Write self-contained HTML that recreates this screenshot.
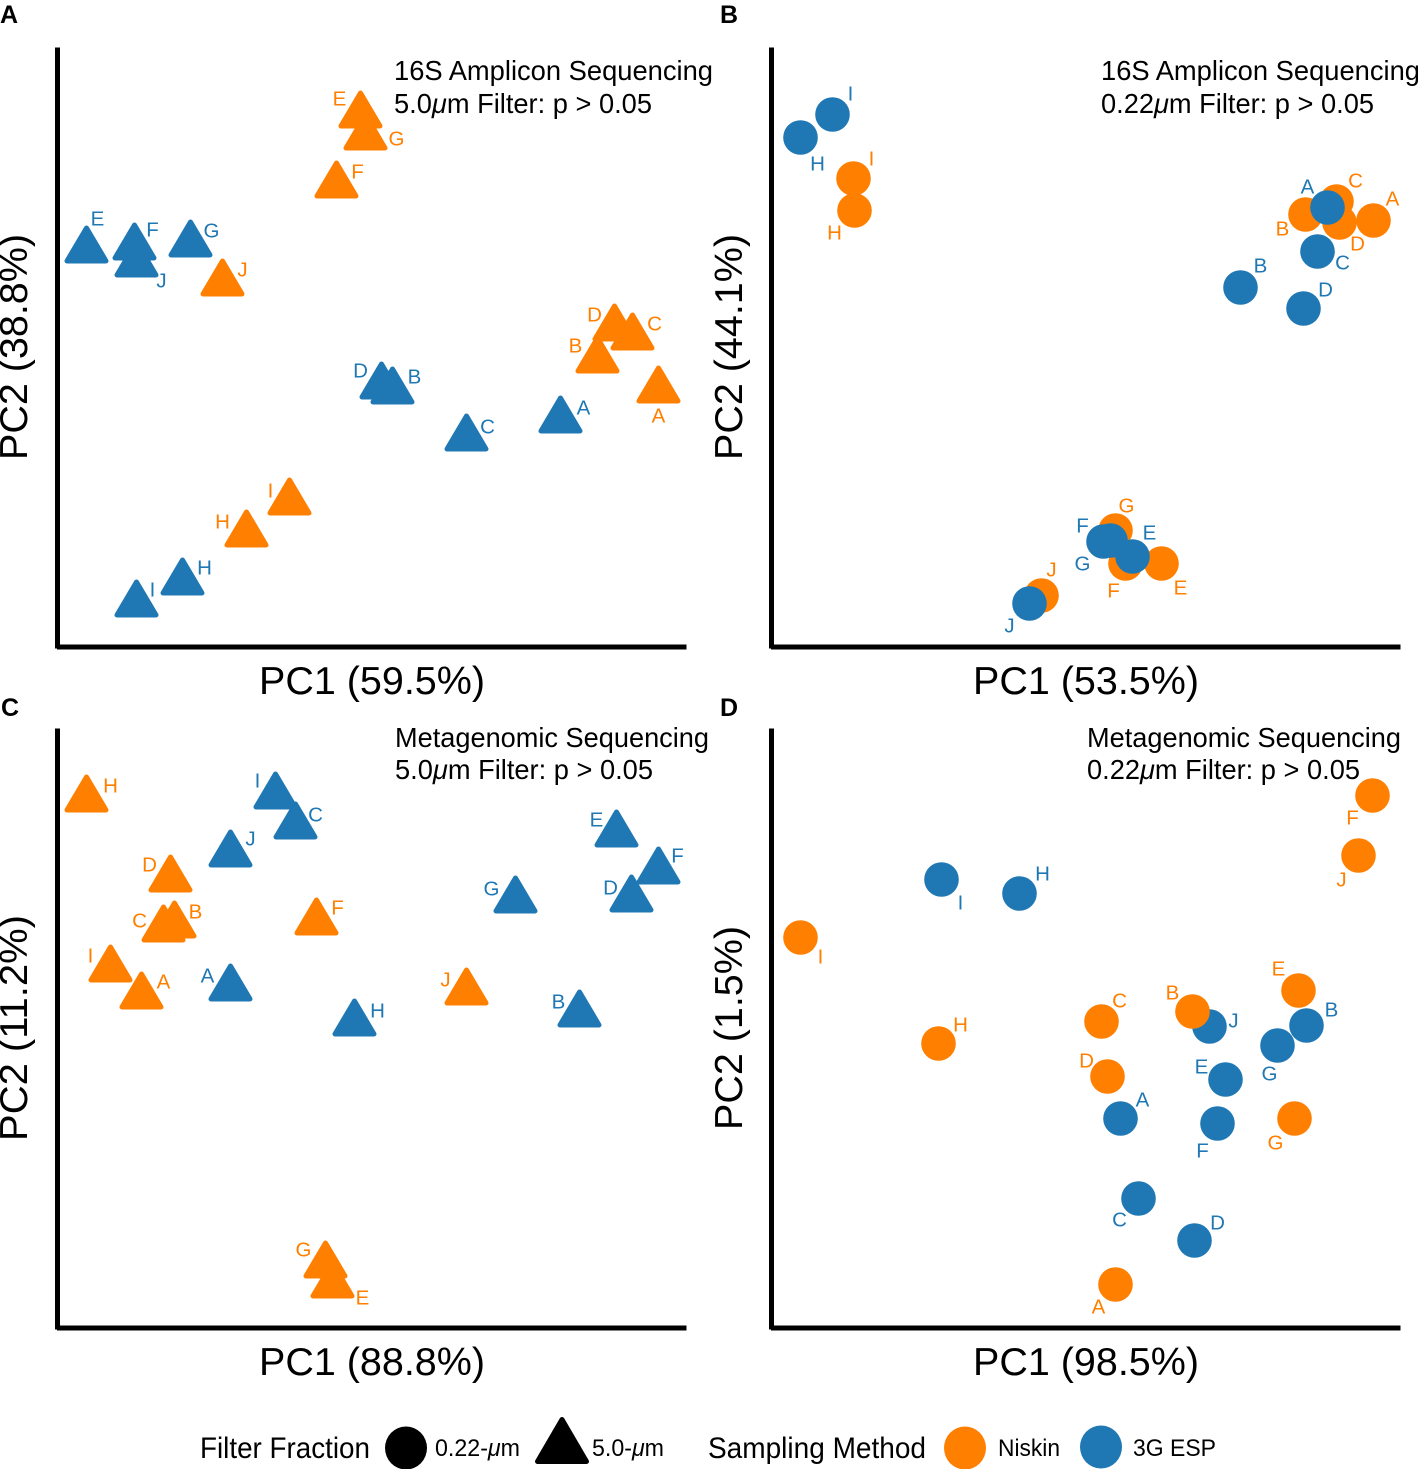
<!DOCTYPE html>
<html>
<head>
<meta charset="utf-8">
<style>
html,body{margin:0;padding:0;background:#fff;width:1418px;height:1469px;overflow:hidden}
svg{display:block}
text{font-family:"Liberation Sans",sans-serif;fill:#000}
.ax{font-size:39px}
.an{font-size:27.5px}
.tag{font-size:25px;font-weight:bold}
.lg{font-size:29.5px}
.li{font-size:24px}
.pl{font-size:20.5px}
</style>
</head>
<body>
<svg id="chart" xmlns="http://www.w3.org/2000/svg" width="1418" height="1469" viewBox="0 0 1418 1469">
  <g>
    <text class="tag" x="0" y="23">A</text>
    <text class="tag" x="720" y="23">B</text>
    <text class="tag" x="1" y="716">C</text>
    <text class="tag" x="720" y="716">D</text>
  </g>
  <g>
    <text class="ax" x="372" y="694" text-anchor="middle" textLength="226" lengthAdjust="spacingAndGlyphs">PC1 (59.5%)</text>
    <text class="ax" x="1086" y="694" text-anchor="middle" textLength="226" lengthAdjust="spacingAndGlyphs">PC1 (53.5%)</text>
    <text class="ax" x="372" y="1375" text-anchor="middle" textLength="226" lengthAdjust="spacingAndGlyphs">PC1 (88.8%)</text>
    <text class="ax" x="1086" y="1375" text-anchor="middle" textLength="226" lengthAdjust="spacingAndGlyphs">PC1 (98.5%)</text>
    <text class="ax" transform="translate(27,347) rotate(-90)" text-anchor="middle" textLength="226" lengthAdjust="spacingAndGlyphs">PC2 (38.8%)</text>
    <text class="ax" transform="translate(742,347) rotate(-90)" text-anchor="middle" textLength="226" lengthAdjust="spacingAndGlyphs">PC2 (44.1%)</text>
    <text class="ax" transform="translate(27,1028) rotate(-90)" text-anchor="middle" textLength="226" lengthAdjust="spacingAndGlyphs">PC2 (11.2%)</text>
    <text class="ax" transform="translate(742,1028) rotate(-90)" text-anchor="middle" textLength="204" lengthAdjust="spacingAndGlyphs">PC2 (1.5%)</text>
  </g>
  <g>
    <text class="an" x="394" y="80" textLength="319" lengthAdjust="spacingAndGlyphs">16S Amplicon Sequencing</text>
    <text class="an" x="394" y="113" textLength="258" lengthAdjust="spacingAndGlyphs">5.0<tspan font-style="italic">μ</tspan>m Filter: p &gt; 0.05</text>
    <text class="an" x="1101" y="80" textLength="319" lengthAdjust="spacingAndGlyphs">16S Amplicon Sequencing</text>
    <text class="an" x="1101" y="113" textLength="273" lengthAdjust="spacingAndGlyphs">0.22<tspan font-style="italic">μ</tspan>m Filter: p &gt; 0.05</text>
    <text class="an" x="395" y="747" textLength="314" lengthAdjust="spacingAndGlyphs">Metagenomic Sequencing</text>
    <text class="an" x="395" y="779" textLength="258" lengthAdjust="spacingAndGlyphs">5.0<tspan font-style="italic">μ</tspan>m Filter: p &gt; 0.05</text>
    <text class="an" x="1087" y="747" textLength="314" lengthAdjust="spacingAndGlyphs">Metagenomic Sequencing</text>
    <text class="an" x="1087" y="779" textLength="273" lengthAdjust="spacingAndGlyphs">0.22<tspan font-style="italic">μ</tspan>m Filter: p &gt; 0.05</text>
  </g>
  <g id="plots"></g>
  <g>
    <text class="lg" x="200" y="1458" textLength="170" lengthAdjust="spacingAndGlyphs">Filter Fraction</text>
    <ellipse cx="406" cy="1448" rx="21" ry="21.5" fill="#000"></ellipse>
    <text class="li" x="435" y="1456" textLength="85" lengthAdjust="spacingAndGlyphs">0.22-<tspan font-style="italic">μ</tspan>m</text>
    <polygon points="562,1419.5 537.5,1461.5 586.5,1461.5" fill="#000" stroke="#000" stroke-width="5" stroke-linejoin="round"></polygon>
    <text class="li" x="592" y="1456" textLength="72" lengthAdjust="spacingAndGlyphs">5.0-<tspan font-style="italic">μ</tspan>m</text>
    <text class="lg" x="708" y="1458" textLength="218" lengthAdjust="spacingAndGlyphs">Sampling Method</text>
    <ellipse cx="965" cy="1448" rx="21" ry="21.5" fill="#FF7F00"></ellipse>
    <text class="li" x="998" y="1456" textLength="62" lengthAdjust="spacingAndGlyphs">Niskin</text>
    <ellipse cx="1101" cy="1447" rx="21" ry="21.5" fill="#1F78B4"></ellipse>
    <text class="li" x="1133" y="1456" textLength="83" lengthAdjust="spacingAndGlyphs">3G ESP</text>
  </g>
</svg>
<script>
// Sample names shared by every panel
const samples = ['A','B','C','D','E','F','G','H','I','J'];

// Panel A — scores on PC1 / PC2
const aNiskinPC1 = [60.0,53.9,57.4,55.6,30.2,27.8,30.7,18.8,23.1,16.4];
const aNiskinPC2 = [25.7,28.7,31.0,31.9,53.2,46.2,51.0,11.3,14.5,36.4];
const aEspPC1 = [50.2,33.4,40.8,32.3,2.8,7.6,13.2,12.4,7.8,7.8];
const aEspPC2 = [22.7,25.6,20.9,26.1,39.7,40.0,40.3,6.5,4.3,38.3];

// Panel B
const bNiskinPC1 = [60.1,53.3,56.4,56.7,38.9,35.3,34.3,8.2,8.1,26.9];
const bNiskinPC2 = [42.7,43.3,44.6,42.5,8.4,8.4,11.7,43.7,46.9,5.2];
const bEspPC1 = [55.5,46.8,54.5,53.1,36.0,33.1,33.8,2.8,6.0,25.7];
const bEspPC2 = [44.0,36.0,39.6,33.9,9.1,10.6,10.7,51.0,53.3,4.4];

// Panel C
const cNiskinPC1 = [8.3,11.6,10.5,11.2,27.4,25.8,26.7,2.8,5.2,40.8];
const cNiskinPC2 = [33.2,40.3,39.9,44.9,4.3,40.6,6.3,52.9,35.9,33.6];
const cEspPC1 = [17.2,52.1,23.7,57.3,55.8,60.0,45.7,29.6,21.7,17.2];
const cEspPC2 = [34.0,31.4,50.2,42.9,49.4,45.7,42.8,30.5,53.2,47.4];

// Panel D
const dNiskinPC1 = [34.3,42.0,32.9,33.5,52.6,60.0,52.2,16.6,2.8,58.6];
const dNiskinPC2 = [4.4,31.7,30.7,25.2,33.8,53.3,21.0,28.5,39.1,47.3];
const dEspPC1 = [34.8,53.4,36.6,42.2,45.3,44.5,50.5,24.7,16.9,43.7];
const dEspPC2 = [21.0,30.3,13.0,8.8,24.9,20.5,28.3,43.5,44.9,30.2];

// Repelled label nudges, expressed in score units relative to each point
const aNiskinNudgeX = [0,-2.2,2.2,-2.0,-2.1,2.1,3.1,-2.4,-1.9,2.0];
const aNiskinNudgeY = [-2.5,1.5,1.4,1.4,1.7,1.4,-0.1,1.3,1.2,1.4];
const aEspNudgeX = [2.3,2.2,2.1,-2.1,1.1,1.8,2.1,2.2,1.6,2.5];
const aEspNudgeY = [1.3,1.5,1.2,1.6,3.2,1.8,1.4,1.5,1.5,-1.6];
const bNiskinNudgeX = [1.9,-2.3,1.9,1.8,1.9,-1.2,1.1,-2.0,1.8,1.0];
const bNiskinNudgeY = [2.2,-1.4,2.1,-2.1,-2.4,-2.7,2.5,-2.2,2.0,2.6];
const bEspNudgeX = [-2.0,2.0,2.5,2.2,1.7,-2.1,-2.8,1.7,1.8,-2.0];
const bEspNudgeY = [2.1,2.2,-1.1,1.9,2.4,1.6,-2.3,-2.6,2.1,-2.2];
const cNiskinNudgeX = [2.2,2.1,-2.4,-2.1,3.0,2.1,-2.2,2.4,-2.0,-2.1];
const cNiskinNudgeY = [1.5,1.4,0.9,1.5,-1.2,1.5,1.6,1.4,1.4,1.3];
const cEspNudgeX = [-2.3,-2.1,2.0,-2.1,-2.0,1.9,-2.4,2.3,-1.8,2.0];
const cEspNudgeY = [1.3,1.3,1.2,1.2,1.5,1.6,1.2,1.3,1.6,1.6];
const dNiskinNudgeX = [-1.7,-2.0,1.8,-2.1,-2.0,-2.0,-1.9,2.2,2.0,-1.7];
const dNiskinNudgeY = [-2.2,1.9,2.1,1.6,2.2,-2.2,-2.4,1.9,-1.9,-2.4];
const dEspNudgeX = [2.2,2.5,-1.9,2.3,-2.4,-1.5,-0.8,2.3,1.9,2.4];
const dEspNudgeY = [1.9,1.6,-2.1,1.8,1.3,-2.7,-2.8,2.0,-2.3,0.6];

const NS = 'http://www.w3.org/2000/svg';
const ORANGE = '#FF7F00';
const BLUE = '#1F78B4';
const plots = document.getElementById('plots');

function make(tag, attrs, parent) {
  const el = document.createElementNS(NS, tag);
  for (const k in attrs) el.setAttribute(k, attrs[k]);
  parent.appendChild(el);
  return el;
}

// Axis functions: score range 0–62.8 on PC1, 0–60 on PC2
function axisX(left) { return v => left + 0.5 + v * 10; }
function axisY(bottom) { return v => bottom + 0.5 - v * 10; }

function drawSeries(group, shape, color, seriesName, px, py, nx, ny, sx, sy) {
  samples.forEach((name, i) => {
    const cx = sx(px[i]);
    const cy = sy(py[i]);
    let mark;
    if (shape === 'triangle') {
      const pts = [[cx, cy - 22.5], [cx - 19.5, cy + 10.5], [cx + 19.5, cy + 10.5]];
      mark = make('polygon', {
        points: pts.map(p => p.join(',')).join(' '),
        fill: color, stroke: color, 'stroke-width': 5, 'stroke-linejoin': 'round'
      }, group);
    } else {
      mark = make('circle', { cx: cx, cy: cy, r: 17.3, fill: color }, group);
    }
    
    
  });
  samples.forEach((name, i) => {
    const lx = sx(px[i] + nx[i]);
    const ly = sy(py[i] + ny[i]);
    const t = make('text', {
      class: 'pl', x: lx, y: ly + 7, 'text-anchor': 'middle', style: 'fill:' + color
    }, group);
    t.textContent = name;
    
    
  });
}

function drawPanel(id, left, bottom, shape, n, e, niskinOnTop) {
  const g = make('g', {}, plots);
  
  
  const sx = axisX(left);
  const sy = axisY(bottom);
  const yAxis = make('line', { x1: sx(0) - 1, x2: sx(0) - 1, y1: sy(60), y2: sy(0) + 1, stroke: '#000', 'stroke-width': 5 }, g);
  
  
  const xAxis = make('line', { x1: sx(0) - 1.5, x2: sx(62.8), y1: sy(0) - 0.5, y2: sy(0) - 0.5, stroke: '#000', 'stroke-width': 5 }, g);
  
  
  if (niskinOnTop) {
    drawSeries(g, shape, BLUE, 'esp', e[0], e[1], e[2], e[3], sx, sy);
    drawSeries(g, shape, ORANGE, 'niskin', n[0], n[1], n[2], n[3], sx, sy);
  } else {
    drawSeries(g, shape, ORANGE, 'niskin', n[0], n[1], n[2], n[3], sx, sy);
    drawSeries(g, shape, BLUE, 'esp', e[0], e[1], e[2], e[3], sx, sy);
  }
}

drawPanel('a', 58, 647, 'triangle',
  [aNiskinPC1, aNiskinPC2, aNiskinNudgeX, aNiskinNudgeY],
  [aEspPC1, aEspPC2, aEspNudgeX, aEspNudgeY], false);
drawPanel('b', 772, 647, 'circle',
  [bNiskinPC1, bNiskinPC2, bNiskinNudgeX, bNiskinNudgeY],
  [bEspPC1, bEspPC2, bEspNudgeX, bEspNudgeY], false);
drawPanel('c', 58, 1328, 'triangle',
  [cNiskinPC1, cNiskinPC2, cNiskinNudgeX, cNiskinNudgeY],
  [cEspPC1, cEspPC2, cEspNudgeX, cEspNudgeY], false);
drawPanel('d', 772, 1328, 'circle',
  [dNiskinPC1, dNiskinPC2, dNiskinNudgeX, dNiskinNudgeY],
  [dEspPC1, dEspPC2, dEspNudgeX, dEspNudgeY], true);
</script>
</body>
</html>
